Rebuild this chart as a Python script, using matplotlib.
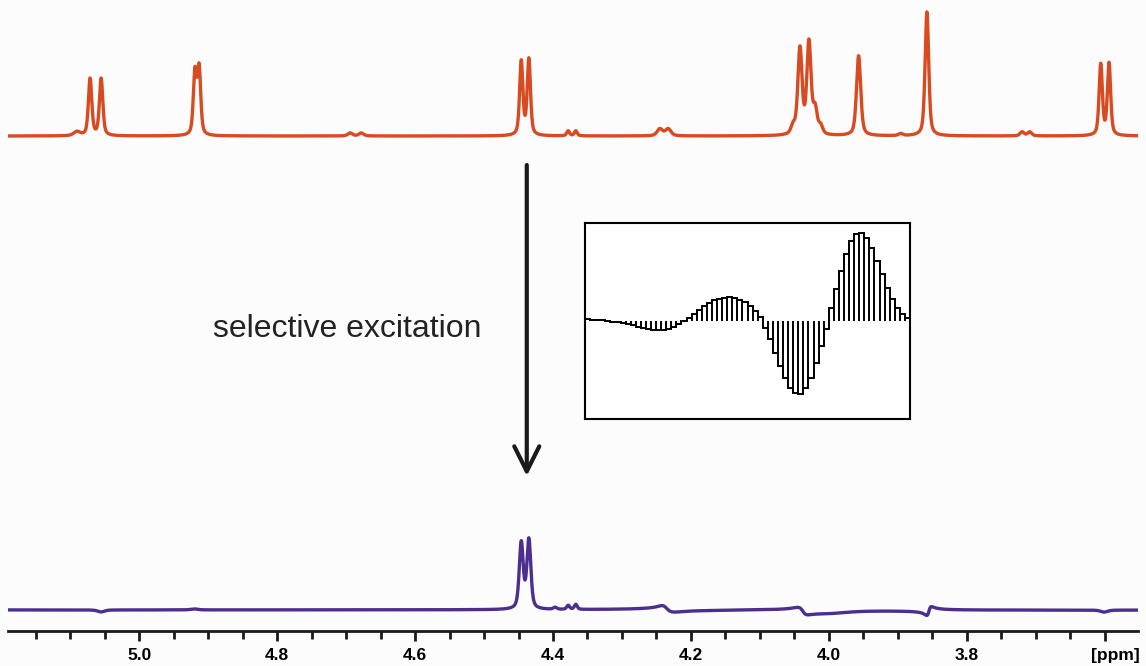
import numpy as np
import matplotlib.pyplot as plt
from matplotlib.ticker import MultipleLocator, FixedLocator

# reference 1H spectrum: peak shift (ppm), height (a.u.), line width (ppm)
top_shift = [5.090, 5.071, 5.055, 4.919, 4.913, 4.694, 4.678, 4.446, 4.435,
             4.378, 4.367, 4.245, 4.233, 4.052, 4.042, 4.029, 4.020, 4.012,
             3.957, 3.896, 3.858, 3.720, 3.709, 3.606, 3.594]
top_height = [4, 57, 57, 62, 66, 3, 3, 74, 76,
              5, 5, 7, 7, 8, 86, 92, 24, 8,
              80, 2, 124, 4, 4, 71, 72]
top_width = [0.011, 0.0058, 0.0058, 0.0056, 0.0056, 0.008, 0.008, 0.0056, 0.0056,
             0.005, 0.005, 0.0095, 0.0095, 0.007, 0.0072, 0.0072, 0.007, 0.007,
             0.0072, 0.007, 0.0062, 0.007, 0.007, 0.0056, 0.0056]

# selectively excited spectrum
sel_shift = [4.446, 4.435, 4.397, 4.378, 4.367, 4.236, 4.000, 3.858, 3.601, 5.055, 4.920]
sel_height = [66, 69, 2, 4, 5, 2, -2, -1, -2, -2, 1]
sel_width = [0.0068, 0.0068, 0.006, 0.005, 0.005, 0.017, 0.058, 0.008, 0.012, 0.012, 0.012]
# small phase (dispersive) distortions
disp_shift = [4.236, 4.038, 3.855]
disp_amp = [6, 7, -8]
disp_width = [0.017, 0.014, 0.007]

# shaped pulse amplitudes shown in the inset
pulse = [5, 4, 3, 2, 0, -2, -4, -7, -10, -13, -17, -21, -24, -27, -28, -27,
         -24, -18, -10, 0, 10, 22, 34, 45, 55, 62, 67, 70, 71, 69, 64, 56,
         45, 30, 12, -20, -55, -95, -135, -170, -200, -217, -220, -200, -170, -125, -75, -25,
         40, 95, 150, 200, 240, 262, 265, 250, 220, 180, 140, 100, 65, 40, 22, 10]

tick_ppm = [5.0, 4.8, 4.6, 4.4, 4.2, 4.0, 3.8, 3.6]
tick_text = ['5.0', '4.8', '4.6', '4.4', '4.2', '4.0', '3.8', '']


def voigt(x, x0, h, w, eta=0.5):
    u = (x - x0) / w
    return h * (eta / (1 + 4 * u ** 2) + (1 - eta) * np.exp(-4 * np.log(2) * u ** 2))


def dispersion(x, x0, a, w):
    u = (x - x0) / (w / 2)
    return a * u / (1 + u ** 2)


ppm = np.linspace(5.188, 3.553, 6000)
top = np.zeros_like(ppm)
for s, h, w in zip(top_shift, top_height, top_width):
    top += voigt(ppm, s, h, w)
sel = np.zeros_like(ppm)
for s, h, w in zip(sel_shift, sel_height, sel_width):
    sel += voigt(ppm, s, h, w)
for s, a, w in zip(disp_shift, disp_amp, disp_width):
    sel += dispersion(ppm, s, a, w)

W, H = 1146, 666
fig = plt.figure(figsize=(W / 100, H / 100), dpi=100)
fig.patch.set_facecolor('#fcfcfc')

axis_px = 631
ax = fig.add_axes([8 / W, (H - axis_px) / H, 1130 / W, axis_px / H])
ax.set_facecolor('#fcfcfc')
ax.set_xlim(5.19, 3.552)
ax.set_ylim(0, axis_px)

top_base = axis_px - 136
sel_base = axis_px - 610
ax.plot(ppm, top + top_base, color='#d84a20', lw=2.4)
ax.plot(ppm, sel + sel_base, color='#4b2e8e', lw=2.4)

for side in ['top', 'left', 'right']:
    ax.spines[side].set_visible(False)
ax.spines['bottom'].set_linewidth(2)
ax.spines['bottom'].set_color('#1a1a1a')
ax.set_yticks([])
ax.xaxis.set_major_locator(FixedLocator(tick_ppm))
ax.xaxis.set_minor_locator(MultipleLocator(0.05))
ax.set_xticklabels(tick_text, fontsize=12.5, fontweight='bold', family='Liberation Sans')
ax.tick_params(axis='x', which='major', length=7, width=2, color='#1a1a1a', pad=5)
ax.tick_params(axis='x', which='minor', length=5.5, width=2, color='#1a1a1a')
ax.annotate('[ppm]', xy=(1, 0), xycoords='axes fraction', xytext=(1, -12),
            textcoords='offset points', ha='right', va='top',
            fontsize=12.5, fontweight='bold', family='Liberation Sans')

# arrow and label
ax.annotate('', xy=(4.438, axis_px - 476), xytext=(4.438, axis_px - 165),
            arrowprops=dict(arrowstyle='->, head_length=0.9, head_width=0.45',
                            lw=3, color='#1a1a1a', mutation_scale=20,
                            shrinkA=0, shrinkB=0))
ax.text(4.503, axis_px - 337, 'selective excitation', ha='right', va='baseline',
        fontsize=23, family='Liberation Sans', color='#222222')

# inset with the shaped pulse
ax_in = fig.add_axes([585 / W, (H - 419) / H, 325 / W, 196 / H])
ax_in.set_facecolor('white')
edges = np.arange(len(pulse) + 1)
ax_in.stairs(pulse, edges, color='black', lw=1.4, baseline=None)
ax_in.vlines(edges[:-1], 0, pulse, color='black', lw=1.2)
ax_in.vlines(edges[1:], 0, pulse, color='black', lw=1.2)
ax_in.set_xlim(0, len(pulse))
ax_in.set_ylim(-294, 294)
ax_in.set_xticks([])
ax_in.set_yticks([])
for sp in ax_in.spines.values():
    sp.set_linewidth(1.5)

fig.savefig('out.png', dpi=100, facecolor=fig.get_facecolor())
